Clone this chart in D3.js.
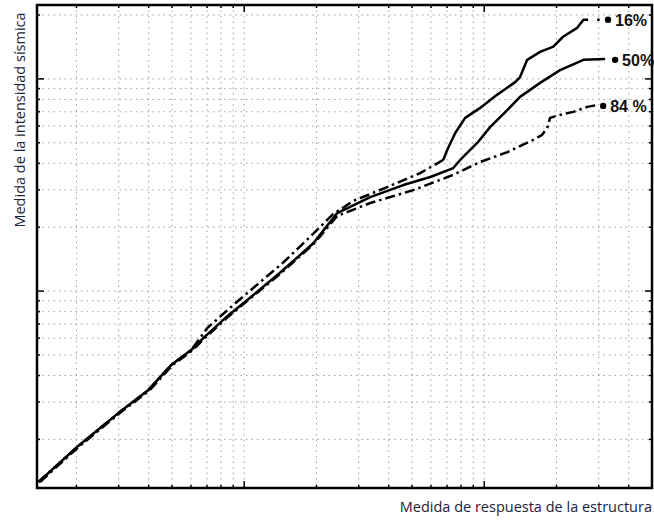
<!DOCTYPE html>
<html lang="es">
<head>
  <meta charset="UTF-8" />
  <title>curvas de fragilidad</title>
  <script src="https://d3js.org/d3.v7.min.js" charset="utf-8"></script>
  <style>
    body { margin: 0; background: #fff; }
  </style>
</head>
<body>
<script type="text/javascript">

const WIDTH = 654;
const HEIGHT = 521;

// [respuesta, intensidad]
const p16 = [
  [0.139, 0.126], [0.201, 0.184], [0.299, 0.266], [0.398, 0.341], [0.496, 0.448],
  [0.601, 0.527], [0.631, 0.568], [0.701, 0.669], [0.900, 0.859], [1.13, 1.07],
  [1.45, 1.36], [1.88, 1.80], [2.35, 2.31], [2.85, 2.66], [3.94, 3.09],
  [5.41, 3.60], [6.75, 4.15], [7.01, 4.62], [7.57, 5.56], [8.33, 6.55],
  [9.62, 7.30], [11.3, 8.41], [13.5, 9.68], [14.1, 10.2], [15.1, 12.3],
  [17.1, 13.4], [19.4, 14.2], [21.3, 15.8], [24.4, 17.4], [25.9, 19.0], [27.1, 19.0]
];
const p16SolidFrom = 6.75; // upper part of the 16% curve is drawn solid

const p50 = [
  [0.139, 0.126], [0.201, 0.184], [0.299, 0.266], [0.398, 0.341], [0.496, 0.448],
  [0.601, 0.527], [0.675, 0.600], [0.833, 0.746], [1.03, 0.907], [1.41, 1.22],
  [1.94, 1.68], [2.44, 2.33], [3.35, 2.77], [4.60, 3.16], [5.96, 3.45],
  [7.43, 3.80], [7.94, 4.15], [9.35, 4.99], [10.6, 5.94], [12.5, 7.14],
  [14.1, 8.23], [17.1, 9.58], [20.7, 11.0], [25.9, 12.3], [31.9, 12.4]
];

const p84 = [
  [0.141, 0.126], [0.204, 0.184], [0.303, 0.266], [0.404, 0.341], [0.503, 0.448],
  [0.610, 0.527], [0.685, 0.600], [0.845, 0.746], [1.04, 0.907], [1.43, 1.22],
  [1.96, 1.68], [2.44, 2.26], [3.35, 2.60], [5.06, 2.99], [7.43, 3.53],
  [9.62, 4.06], [12.5, 4.52], [16.0, 5.16], [17.4, 5.44], [18.3, 5.87],
  [18.8, 6.55], [20.7, 6.77], [23.5, 6.99], [26.9, 7.38], [29.6, 7.54]
];

// end markers and their labels
const endLabels = ["16%", "50%", "84 %"];
const endX = [32.8, 35.1, 31.3];
const endY = [19.0, 12.3, 7.46];

const xDomain = [0.137, 50];
const yDomain = [0.118, 22.3];

const svg = d3.select("body")
  .append("svg")
    .attr("width", WIDTH)
    .attr("height", HEIGHT);

const PL = 37, PR = 652, PT = 5, PB = 488;

const x = d3.scaleLog().domain(xDomain).range([PL, PR]);
const y = d3.scaleLog().domain(yDomain).range([PB, PT]);

const isMajor = v => Math.abs(Math.log10(v) - Math.round(Math.log10(v))) < 1e-6;

// dotted grid
const grid = svg.append("g")
  .attr("stroke", "#a0a0a0")
  .attr("stroke-width", 1)
  .attr("stroke-dasharray", "1.5,4");
grid.selectAll(".vx")
  .data(x.ticks())
  .join("line")
    .attr("x1", d => x(d)).attr("x2", d => x(d))
    .attr("y1", PT).attr("y2", PB);
grid.selectAll(".hy")
  .data(y.ticks())
  .join("line")
    .attr("y1", d => y(d)).attr("y2", d => y(d))
    .attr("x1", PL).attr("x2", PR);

// frame ticks
const ticks = svg.append("g").attr("stroke", "#000").attr("stroke-width", 1.5);
x.ticks().forEach(v => {
  const len = isMajor(v) ? 7 : 3;
  ticks.append("line").attr("x1", x(v)).attr("x2", x(v)).attr("y1", PB).attr("y2", PB - len);
  ticks.append("line").attr("x1", x(v)).attr("x2", x(v)).attr("y1", PT).attr("y2", PT + len);
});
y.ticks().forEach(v => {
  const len = isMajor(v) ? 7 : 3;
  ticks.append("line").attr("y1", y(v)).attr("y2", y(v)).attr("x1", PL).attr("x2", PL + len);
  ticks.append("line").attr("y1", y(v)).attr("y2", y(v)).attr("x1", PR).attr("x2", PR - len);
});

// frame
svg.append("rect")
  .attr("x", PL).attr("y", PT)
  .attr("width", PR - PL).attr("height", PB - PT)
  .attr("fill", "none")
  .attr("stroke", "#000")
  .attr("stroke-width", 2.5);

// curves
const line = d3.line().x(d => x(d[0])).y(d => y(d[1]));
const curves = svg.append("g").attr("fill", "none").attr("stroke", "#000")
  .attr("stroke-width", 2.5).attr("stroke-linejoin", "round");

curves.append("path").attr("d", line(p50));
curves.append("path").attr("d", line(p84)).attr("stroke-dasharray", "10,4,2.5,4");
curves.append("path").attr("d", line(p16.filter(d => d[0] <= p16SolidFrom)))
  .attr("stroke-dasharray", "10,4,2.5,4");
curves.append("path").attr("d", line(p16.filter(d => d[0] >= p16SolidFrom)));

// dotted link between 16% curve end and its marker
const last16 = p16[p16.length - 1];
svg.append("line")
  .attr("x1", x(last16[0])).attr("y1", y(last16[1]))
  .attr("x2", x(endX[0])).attr("y2", y(endY[0]))
  .attr("stroke", "#000").attr("stroke-width", 2.5)
  .attr("stroke-dasharray", "0,9,2.5,40");

// end markers and labels
endLabels.forEach((lab, i) => {
  svg.append("circle")
    .attr("cx", x(endX[i])).attr("cy", y(endY[i]))
    .attr("r", 3.2).attr("fill", "#000");
  svg.append("text")
    .attr("x", x(endX[i]) + 7).attr("y", y(endY[i]))
    .attr("dy", "0.36em")
    .attr("font-family", "Liberation Sans, Arial, sans-serif")
    .attr("font-size", "16px")
    .attr("font-weight", "bold")
    .attr("fill", "#111")
    .text(lab);
});

// axis titles
svg.append("text")
  .attr("x", 652).attr("y", 512)
  .attr("text-anchor", "end")
  .attr("font-family", "Open Sans, sans-serif")
  .attr("font-size", "14.5px")
  .attr("fill", "#1c2238")
  .text("Medida de respuesta de la estructura");
svg.append("text")
  .attr("transform", "translate(25,120) rotate(-90)")
  .attr("text-anchor", "middle")
  .attr("font-family", "Open Sans, sans-serif")
  .attr("font-size", "14.5px")
  .attr("fill", "#1c2238")
  .text("Medida de la intensidad sísmica");

</script>
</body>
</html>
